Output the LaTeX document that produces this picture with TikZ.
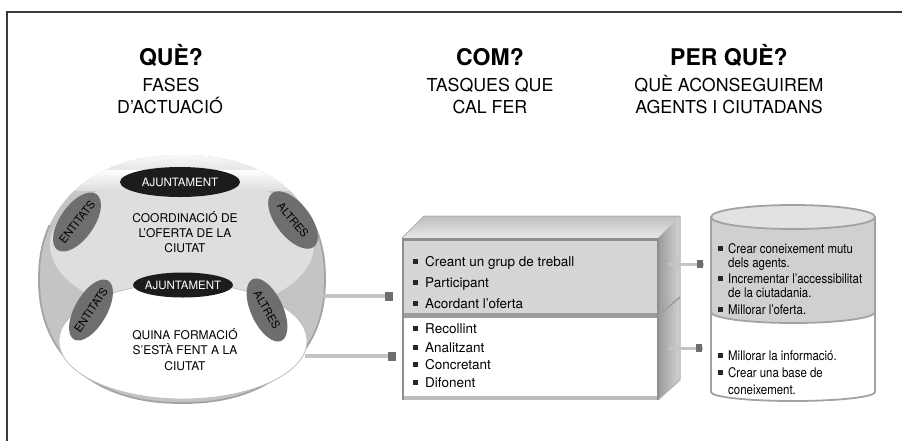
\documentclass[tikz,border=0pt]{standalone}
\usepackage{fontspec}
\setmainfont{TeX Gyre Heros}
\newfontfamily\narrowfont[FakeStretch=0.86]{TeX Gyre Heros}
\usetikzlibrary{shapes.geometric}
\definecolor{framec}{HTML}{3A3A3A}
\definecolor{ringgray}{HTML}{C4C4C4}
\definecolor{ringedge}{HTML}{A4A4A4}
\definecolor{lightg}{HTML}{DEDEDE}
\definecolor{ajfill}{HTML}{1C1C1C}
\definecolor{sidefill}{HTML}{6E6E6E}
\definecolor{conngray}{HTML}{C4C4C4}
\definecolor{sqgray}{HTML}{6E6E6E}
\definecolor{boxtopA}{HTML}{BEBEBE}
\definecolor{boxtopB}{HTML}{E8E8E8}
\definecolor{rfA}{HTML}{9A9A9A}
\definecolor{rfB}{HTML}{D2D2D2}
\definecolor{frontgray}{HTML}{D6D6D6}
\definecolor{edgegray}{HTML}{8E8E8E}
\definecolor{divgray}{HTML}{9C9C9C}
\definecolor{botgray}{HTML}{BDBDBD}
\definecolor{cylgray}{HTML}{D0D0D0}
\definecolor{cyledge}{HTML}{A2A2A2}
\definecolor{cyltop}{HTML}{E2E2E2}
\tikzset{
 head/.style={anchor=base, inner sep=0, font=\bfseries\fontsize{23}{26}\selectfont},
 sub/.style={anchor=base, inner sep=0, font=\fontsize{17.8}{20}\selectfont},
 ctext/.style={anchor=base, inner sep=0, font=\fontsize{12}{14}\selectfont},
 ajtext/.style={inner sep=0, text=white, font=\fontsize{11.5}{13}\selectfont},
 sidetext/.style={inner sep=0, font=\fontsize{11}{12}\selectfont},
 item/.style={anchor=base west, inner sep=0, font=\fontsize{13.5}{16}\selectfont},
 ritem/.style={anchor=base west, inner sep=0, font=\narrowfont\fontsize{13.3}{15}\selectfont},
 bul/.style={fill=black!85, minimum size=5pt, inner sep=0, outer sep=0},
 conn/.style={draw=conngray, line width=4pt},
 connend/.style={fill=sqgray, minimum width=8pt, minimum height=9pt, inner sep=0, outer sep=0},
}
\def\outerpath{plot[domain=0.5:360.5, samples=121]
  ({182+143*sign(cos(\x))*abs(cos(\x))^0.9}, {279+124*sign(sin(\x))*abs(sin(\x))^0.9}) -- cycle}
\begin{document}
\begin{tikzpicture}[x=1pt,y=-1pt]
\useasboundingbox (0,0) rectangle (902,440);
\clip (0,0) rectangle (902,440);
\fill[white] (0,0) rectangle (902,440);
% frame
\draw[framec, line width=1.6pt] (7,460) -- (7,12) -- (920,12);

% headings
\node[head] (h1) at (171,65) {QUÈ?};
\node[sub] (s1a) at (171,91.5) {FASES};
\node[sub] (s1b) at (170,113.5) {D’ACTUACIÓ};
\node[head] (h2) at (490,65) {COM?};
\node[sub] (s2a) at (490,91.5) {TASQUES QUE};
\node[sub] (s2b) at (490,113.5) {CAL FER};
\node[head] (h3) at (729,65) {PER QUÈ?};
\node[sub] (s3a) at (729,91.5) {QUÈ ACONSEGUIREM};
\node[sub] (s3b) at (729,113.5) {AGENTS I CIUTADANS};

% left sphere
\begin{scope}
  \clip \outerpath;
  \fill[ringgray] (0,140) rectangle (340,420);
  \shade[top color=white, bottom color=ringgray] (0,150) rectangle (340,196);
  \fill[lightg] (182,245) ellipse [x radius=132pt, y radius=70pt];
  \shade[top color=white, bottom color=lightg] (0,170) rectangle (340,190);
\end{scope}
\begin{scope}
  \clip (0,225) rectangle (340,420);
  \draw[ringedge, line width=1.8pt] \outerpath;
\end{scope}
\filldraw[fill=white, draw=ringedge!70, line width=0.8pt] (183,341) ellipse [x radius=124pt, y radius=58pt];

% side ellipses
\fill[sidefill, rotate around={55:(77,222)}] (77,222) ellipse [x radius=34pt, y radius=17pt];
\fill[sidefill, rotate around={-52:(293,220)}] (293,220) ellipse [x radius=34pt, y radius=17pt];
\fill[sidefill, rotate around={60:(91,310)}] (91,310) ellipse [x radius=34pt, y radius=16pt];
\fill[sidefill, rotate around={-65:(267,310)}] (267,310) ellipse [x radius=34pt, y radius=16pt];
\node[sidetext, rotate=52] (e1) at (77,222) {ENTITATS};
\node[sidetext, rotate=-50] (a1) at (293,220) {ALTRES};
\node[sidetext, rotate=56] (e2) at (91,310) {ENTITATS};
\node[sidetext, rotate=-60] (a2) at (267,310) {ALTRES};

% ajuntament ellipses
\fill[ajfill] (180,182) ellipse [x radius=60pt, y radius=15pt];
\node[ajtext] (aj1) at (180,182) {AJUNTAMENT};
\fill[ajfill] (183,285) ellipse [x radius=50pt, y radius=12.5pt];
\node[ajtext] (aj2) at (183,285) {AJUNTAMENT};

% circle texts
\node[ctext] (c1) at (185,222.5) {COORDINACIÓ DE};
\node[ctext] (c2) at (185,237.5) {L’OFERTA DE LA};
\node[ctext] (c3) at (185,252.5) {CIUTAT};
\node[ctext] (c4) at (185,339) {QUINA FORMACIÓ};
\node[ctext] (c5) at (185,354.5) {S’ESTÀ FENT A LA};
\node[ctext] (c6) at (185,370.5) {CIUTAT};

% left connectors
\coordinate (l1s) at (321,296);
\coordinate (l1e) at (393,296);
\coordinate (l2s) at (305,356);
\coordinate (l2e) at (396,356);
\draw[conn] (l1s) -- (l1e);
\draw[conn] (l2s) -- (l2e);
\node[connend] (q1) at (389,296) {};
\node[connend] (q2) at (392,356) {};

% 3D box
\shade[top color=boxtopA, bottom color=boxtopB] (402,238) -- (424,216) -- (680,216) -- (658,238) -- cycle;
\draw[edgegray!70, line width=1pt] (402,238) -- (424,216) -- (680,216);
\shade[left color=rfA, right color=rfB] (658,238) -- (680,216) -- (680,380) -- (658,400) -- cycle;
\draw[edgegray!70, line width=1pt] (680,216) -- (680,380) -- (658,400);
\fill[frontgray] (402,238) rectangle (658,316);
\fill[white] (402,316) rectangle (658,400);
\draw[edgegray, line width=3pt] (402,239.5) -- (658,239.5);
\draw[divgray, line width=4.5pt] (402,315.5) -- (658,315.5);
\draw[botgray, line width=4pt] (402,398) -- (658,398);
\draw[edgegray, line width=2.5pt] (403.2,238) -- (403.2,400);
\draw[edgegray, line width=2pt] (658,238) -- (658,400);
\draw[divgray, line width=1.5pt] (658,316) -- (680,297);
\node[inner sep=0, minimum width=256pt, minimum height=162pt] (box) at (530,319) {};

% box items
\node[bul] (b1) at (415,261.5) {};
\node[item] (t1) at (425,266) {Creant un grup de treball};
\node[bul] (b2) at (415,282.5) {};
\node[item] (t2) at (425,287) {Participant};
\node[bul] (b3) at (415,303.5) {};
\node[item] (t3) at (425,308) {Acordant l’oferta};
\node[bul] (b4) at (415,328.5) {};
\node[item] (t4) at (425,333) {Recollint};
\node[bul] (b5) at (415,347.5) {};
\node[item] (t5) at (425,352) {Analitzant};
\node[bul] (b6) at (415,364.5) {};
\node[item] (t6) at (425,369) {Concretant};
\node[bul] (b7) at (415,382.5) {};
\node[item] (t7) at (425,387) {Difonent};

% right connectors
\coordinate (r1s) at (668,264);
\coordinate (r1e) at (704,264);
\coordinate (r2s) at (668,348);
\coordinate (r2e) at (703,348);
\draw[conn, line width=3pt] (r1s) -- (r1e);
\draw[conn, line width=3pt] (r2s) -- (r2e);
\node[connend, minimum width=6pt, minimum height=8pt] (q3) at (700,264) {};
\node[connend, minimum width=6pt, minimum height=8pt] (q4) at (699,348) {};

% cylinder
\fill[white] (711,312) -- (711,392) arc[start angle=180, end angle=360, x radius=82pt, y radius=9pt] -- (875,312) -- cycle;
\draw[cyledge, line width=1.8pt] (711,312) -- (711,392) arc[start angle=180, end angle=360, x radius=82pt, y radius=9pt] -- (875,312);
\filldraw[fill=cylgray, draw=cyledge, line width=1.8pt] (711,217) -- (711,312) arc[start angle=180, end angle=360, x radius=82pt, y radius=11pt] -- (875,217) -- cycle;
\filldraw[fill=cyltop, draw=cyledge, line width=1.8pt] (793,217) ellipse [x radius=82pt, y radius=12pt];
\node[inner sep=0, minimum width=164pt, minimum height=196pt] (cyl) at (793,305) {};

% cylinder items
\node[bul] (rb1) at (720.5,248.5) {};
\node[ritem] (r1) at (728,253) {Crear coneixement mutu};
\node[ritem] (r1b) at (728,267) {dels agents.};
\node[bul] (rb2) at (720.5,278.5) {};
\node[ritem] (r2) at (728,283) {Incrementar l’accessibilitat};
\node[ritem] (r2b) at (728,297) {de la ciutadania.};
\node[bul] (rb3) at (720.5,309.5) {};
\node[ritem] (r3) at (728,314) {Millorar l’oferta.};
\node[bul] (rb4) at (720.5,355.5) {};
\node[ritem] (r4) at (728,360) {Millorar la informació.};
\node[bul] (rb5) at (720.5,372.5) {};
\node[ritem] (r5) at (728,377) {Crear una base de};
\node[ritem] (r5b) at (728,394) {coneixement.};
\end{tikzpicture}
\end{document}
